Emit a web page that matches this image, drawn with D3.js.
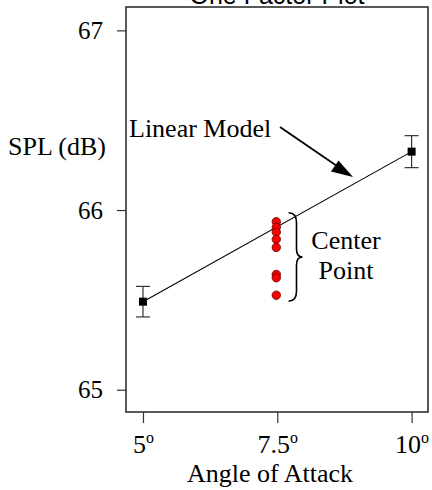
<!DOCTYPE html>
<html>
<head>
<meta charset="utf-8">
<script src="https://cdn.jsdelivr.net/npm/d3@7"></script>
<style>
  html, body { margin: 0; padding: 0; background: #fff; }
  svg { display: block; }
</style>
</head>
<body>
<svg id="chart" width="432" height="490"></svg>
<script>
// Factor levels (angle of attack, degrees) and tick labels
const xTicks = [5, 7.5, 10];
const xTickLabels = ["5", "7.5", "10"];
const yTicks = [65, 66, 67];

// Corner-point means with error bars (SPL, dB)
const cornerAngles = [5, 10];
const cornerMeans = [65.49, 66.325];
const cornerErrors = [0.085, 0.089];

// Center-point replicate runs at 7.5 degrees
const centerAngle = 7.5;
const centerValues = [65.935, 65.904, 65.877, 65.837, 65.792, 65.642, 65.623, 65.526];

const svg = d3.select("#chart");
const plotLeft = 126, plotRight = 428, plotTop = 7, plotBottom = 412;

const x = d3.scaleLinear().domain([4.684, 10.305]).range([plotLeft, plotRight]);
const y = d3.scaleLinear().domain([64.876, 67.13]).range([plotBottom, plotTop]);

const serif = "'Liberation Serif', 'Times New Roman', serif";

// Title (partly clipped by the top edge)
svg.append("text")
  .attr("x", 277).attr("y", 4)
  .attr("text-anchor", "middle")
  .attr("font-family", "'Liberation Sans', Arial, sans-serif")
  .attr("font-size", 25)
  .text("One Factor Plot");

// Plot frame
svg.append("rect")
  .attr("x", plotLeft).attr("y", plotTop)
  .attr("width", plotRight - plotLeft).attr("height", plotBottom - plotTop)
  .attr("fill", "none").attr("stroke", "#222").attr("stroke-width", 1.5);

// Y axis
const yAxis = svg.append("g")
  .attr("transform", `translate(${plotLeft},0)`)
  .call(d3.axisLeft(y).tickValues(yTicks).tickSize(9).tickPadding(14).tickFormat(d3.format("d")));
yAxis.select(".domain").remove();
yAxis.selectAll("line").attr("stroke", "#333").attr("stroke-width", 1.2);
yAxis.selectAll("text")
  .attr("font-family", serif).attr("font-size", 25).attr("fill", "#000");

// X axis
const xAxis = svg.append("g")
  .attr("transform", `translate(0,${plotBottom})`)
  .call(d3.axisBottom(x).tickValues(xTicks).tickSize(11).tickFormat(() => ""));
xAxis.select(".domain").remove();
xAxis.selectAll("line").attr("stroke", "#333").attr("stroke-width", 1.2);
xAxis.selectAll(".tick text").remove();
xAxis.selectAll(".tick").append("text")
  .attr("y", 41)
  .attr("text-anchor", "middle")
  .attr("font-family", serif).attr("font-size", 26).attr("fill", "#000")
  .each(function(d, i) {
    const t = d3.select(this);
    t.append("tspan").text(xTickLabels[i]);
    t.append("tspan").attr("font-size", 16).attr("dy", -10).text("o");
  });

// Axis titles
svg.append("text")
  .attr("x", 8).attr("y", 155)
  .attr("font-family", serif).attr("font-size", 26)
  .text("SPL (dB)");
svg.append("text")
  .attr("x", 270).attr("y", 482)
  .attr("text-anchor", "middle")
  .attr("font-family", serif).attr("font-size", 26)
  .text("Angle of Attack");

// Linear model through the corner means
svg.append("line")
  .attr("x1", x(cornerAngles[0])).attr("y1", y(cornerMeans[0]))
  .attr("x2", x(cornerAngles[1])).attr("y2", y(cornerMeans[1]))
  .attr("stroke", "#000").attr("stroke-width", 1.1);

// Error bars and corner means
const corners = cornerAngles.map((a, i) => ({ a, m: cornerMeans[i], e: cornerErrors[i] }));
const cg = svg.append("g");
corners.forEach(c => {
  const cx = x(c.a);
  cg.append("line")
    .attr("x1", cx).attr("x2", cx)
    .attr("y1", y(c.m + c.e)).attr("y2", y(c.m - c.e))
    .attr("stroke", "#333").attr("stroke-width", 1.2);
  [c.m + c.e, c.m - c.e].forEach(v => {
    cg.append("line")
      .attr("x1", cx - 7).attr("x2", cx + 7)
      .attr("y1", y(v)).attr("y2", y(v))
      .attr("stroke", "#333").attr("stroke-width", 1.2);
  });
  cg.append("rect")
    .attr("x", cx - 4).attr("y", y(c.m) - 4)
    .attr("width", 8).attr("height", 8)
    .attr("fill", "#000");
});

// Center-point replicates
svg.append("g").selectAll("circle")
  .data(centerValues)
  .join("circle")
  .attr("cx", x(centerAngle) - 1)
  .attr("cy", d => y(d))
  .attr("r", 4.2)
  .attr("fill", "#ff0000")
  .attr("stroke", "#5a0000")
  .attr("stroke-width", 0.8);

// Curly brace grouping the center points
const bTop = y(d3.max(centerValues)) - 9;
const bBot = y(d3.min(centerValues)) + 6;
const bMid = (bTop + bBot) / 2;
const bx = 296.5;
const bracePath = [
  `M${bx - 8},${bTop}`,
  `Q${bx},${bTop} ${bx},${bTop + 10}`,
  `L${bx},${bMid - 8}`,
  `Q${bx},${bMid} ${bx + 6},${bMid}`,
  `Q${bx},${bMid} ${bx},${bMid + 8}`,
  `L${bx},${bBot - 10}`,
  `Q${bx},${bBot} ${bx - 8},${bBot}`
].join(" ");
svg.append("path")
  .attr("d", bracePath)
  .attr("fill", "none").attr("stroke", "#000").attr("stroke-width", 1.6);

svg.append("text")
  .attr("x", 346).attr("y", 249)
  .attr("text-anchor", "middle")
  .attr("font-family", serif).attr("font-size", 26)
  .text("Center");
svg.append("text")
  .attr("x", 346).attr("y", 279)
  .attr("text-anchor", "middle")
  .attr("font-family", serif).attr("font-size", 26)
  .text("Point");

// "Linear Model" annotation with arrow pointing at the fitted line
svg.append("line")
  .attr("x1", 280).attr("y1", 127)
  .attr("x2", 345).attr("y2", 171.5)
  .attr("stroke", "#000").attr("stroke-width", 1.8);
svg.append("path")
  .attr("d", "M353,177 L331,171.5 L338.5,160.5 Z")
  .attr("fill", "#000");

svg.append("text")
  .attr("x", 129).attr("y", 137)
  .attr("font-family", serif).attr("font-size", 26)
  .text("Linear Model");
</script>
</body>
</html>
